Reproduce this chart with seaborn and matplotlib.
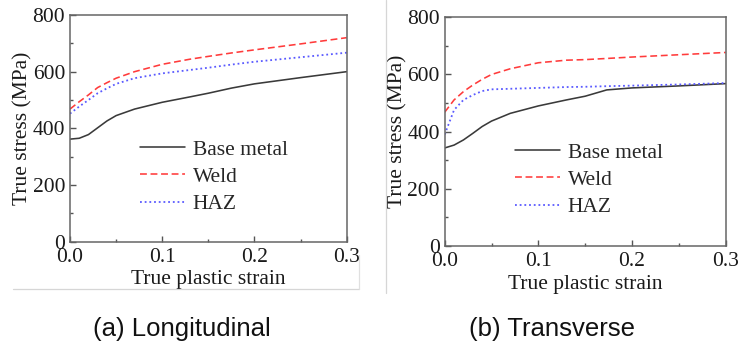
import numpy as np
import pandas as pd
import seaborn as sns
import matplotlib
matplotlib.use("Agg")
import matplotlib.pyplot as plt
from matplotlib.lines import Line2D

# ---------------- data ----------------
strain = [0.0, 0.01, 0.02, 0.03, 0.04, 0.05, 0.07, 0.10, 0.13, 0.15, 0.175, 0.20, 0.25, 0.30]

long_base = [362, 365, 378, 402, 426, 445, 468, 492, 511, 524, 542, 557, 579, 600]
long_weld = [468, 494, 518, 544, 561, 577, 600, 626, 644, 654, 666, 677, 698, 720]
long_haz  = [452, 477, 500, 524, 541, 557, 577, 594, 606, 614, 625, 635, 651, 667]

trans_strain = [0.0, 0.01, 0.02, 0.03, 0.04, 0.05, 0.07, 0.10, 0.13, 0.15, 0.173, 0.20, 0.25, 0.30]
trans_base = [343, 353, 371, 394, 418, 437, 464, 490, 511, 524, 546, 553, 560, 568]
trans_weld = [468, 511, 540, 563, 583, 600, 620, 641, 650, 652, 656, 661, 669, 677]
trans_haz  = [390, 476, 511, 528, 542, 548, 550, 553, 556, 557, 559, 561, 565, 570]

series_names = ["Base metal", "Weld", "HAZ"]
captions = ["(a) Longitudinal", "(b) Transverse"]
x_ticks = [0.0, 0.1, 0.2, 0.3]
y_ticks = [0, 200, 400, 600, 800]

# ---------------- style ----------------
sns.set_style("ticks")
plt.rcParams["font.family"] = ["Liberation Serif", "DejaVu Serif"]
FS = 15.5

W, H = 738, 347
fig = plt.figure(figsize=(W / 100, H / 100), dpi=100)

styles = {
    "Base metal": dict(color="#3a3a3a", linestyle="-", linewidth=1.15),
    "Weld": dict(color="#ff3b3b", linestyle=(0, (4.3, 2.3)), linewidth=1.15),
    "HAZ": dict(color="#5a5aff", linestyle=(0, (1, 1.6)), linewidth=1.3),
}

def px_axes(l, r, t, b):
    return fig.add_axes([l / W, 1 - b / H, (r - l) / W, (b - t) / H])

panels = [
    (px_axes(70, 346.7, 15, 241.7), strain, [long_base, long_weld, long_haz], (0.253, 0.45)),
    (px_axes(444.7, 725.7, 17.3, 246), trans_strain, [trans_base, trans_weld, trans_haz], (0.25, 0.452)),
]

for ax, xs, ys, legpos in panels:
    for name, yv in zip(series_names, ys):
        df = pd.DataFrame({"strain": xs, "stress": yv})
        sns.lineplot(data=df, x="strain", y="stress", ax=ax, label=name,
                     sort=False, **styles[name])
    ax.set_xlim(0, 0.3)
    ax.set_ylim(0, 800)
    ax.set_xticks(x_ticks)
    ax.set_xticklabels([f"{v:.1f}" for v in x_ticks])
    ax.set_xticks([0.05, 0.15, 0.25], minor=True)
    ax.set_yticks(y_ticks)
    ax.set_yticklabels([str(v) for v in y_ticks])
    ax.set_yticks([100, 300, 500, 700], minor=True)
    ax.tick_params(axis="both", which="major", direction="in", length=4,
                   width=1.0, color="#555555", labelsize=FS, pad=3.5,
                   labelcolor="#1a1a1a")
    ax.tick_params(axis="both", which="minor", direction="in", length=2.5,
                   width=1.0, color="#555555")
    ax.tick_params(axis="x", which="major", pad=4.5)
    for sp in ax.spines.values():
        sp.set_color("#666666")
        sp.set_linewidth(1.1)
        sp.set_visible(True)
    ax.set_xlabel("True plastic strain", fontsize=FS, labelpad=2.5, color="#1a1a1a")
    ax.set_ylabel("True stress (MPa)", fontsize=FS, labelpad=0, color="#1a1a1a")
    ax.legend(loc="upper left", bbox_to_anchor=legpos, frameon=False,
              fontsize=FS, handlelength=2.1, handletextpad=0.35,
              labelspacing=0.33, borderpad=0, borderaxespad=0)

# captions
fig.text(182 / W, 1 - 329 / H, captions[0], fontsize=18.5, family="Liberation Sans",
         ha="center", va="center", color="#111111")
fig.text(552 / W, 1 - 329 / H, captions[1], fontsize=18.5, family="Liberation Sans",
         ha="center", va="center", color="#111111")

# light frame lines of the original composite
fig.add_artist(Line2D([13 / W, 359 / W], [1 - 289 / H] * 2, color="#d6d6d6", lw=0.9))
fig.add_artist(Line2D([359 / W, 359 / W], [1 - 289 / H, 1 - 255 / H], color="#e0e0e0", lw=0.9))
fig.add_artist(Line2D([386 / W, 386 / W], [1 - 0 / H, 1 - 293 / H], color="#d6d6d6", lw=0.9))

fig.savefig("out.png", dpi=100, facecolor="white")
